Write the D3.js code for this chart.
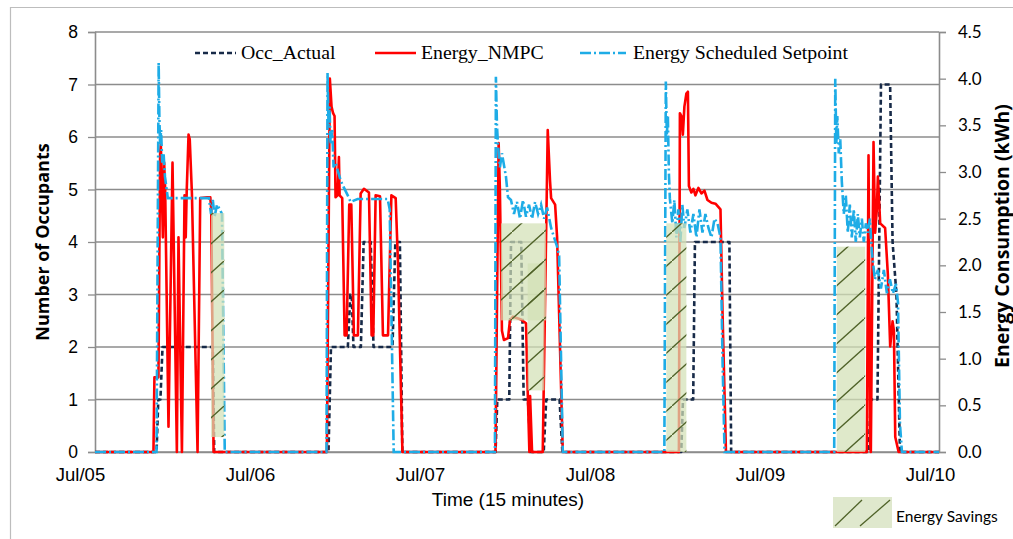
<!DOCTYPE html>
<html>
<head>
<meta charset="utf-8">
<script src="https://cdn.jsdelivr.net/npm/d3@7"></script>
<style>
  html, body { margin: 0; padding: 0; background: #fff; }
  svg { display: block; }
</style>
</head>
<body>
<svg id="chart" width="1013" height="539"></svg>
<script>
// ---- Data (time in hours from Jul/05 00:00, 15-minute resolution) ----
const dayLabels = ["Jul/05", "Jul/06", "Jul/07", "Jul/08", "Jul/09", "Jul/10"];
const dayHours = [0, 24, 48, 72, 96, 120];
const leftTicks = [0, 1, 2, 3, 4, 5, 6, 7, 8];
const rightTicks = [0, 0.5, 1, 1.5, 2, 2.5, 3, 3.5, 4, 4.5];

// Occ_Actual (number of occupants)
const occActual = [
  [0,0],[8.75,0],[9.0,1],[9.3,1],[9.6,2],[16.75,2],[16.95,0],
  [33.2,0],[33.55,2],[35.95,2],[36.3,3],[36.5,3],[36.75,2],[37.8,2],[38.2,4],[39.2,4],[39.6,2],[42.3,2],[42.7,4],[43.35,4],[43.7,0],
  [56.95,0],[57.2,1],[58.9,1],[59.15,4],[60.6,4],[60.95,1],[61.55,1],[61.95,0],[63.8,0],[64.15,1],[66.05,1],[66.45,0],
  [83.35,0],[83.6,1],[85.05,1],[85.3,4],[90.2,4],[90.45,0],
  [110.0,0],[110.3,1],[111.25,1],[111.75,7],[113.05,7],[113.4,4],[113.95,3],[114.45,0],[120,0]
];

// Energy_NMPC (kWh)
const energyNMPC = [
  [0,0],[8.31,0],[8.45,0.8],[9.02,0.8],[9.26,3.2],[9.36,3.3],[9.65,2.3],[9.83,3.1],[9.98,2.8],[10.45,0.27],
  [11.02,3.1],[11.64,0],[11.87,2.3],[12.36,0],[12.73,2.75],[12.9,2.3],[13.04,2.8],[13.3,3.4],[13.47,3.35],[13.78,2.77],
  [14.58,0],[14.96,2.72],[15.96,2.73],[16.39,2.73],[16.53,2.6],[16.86,0],
  [32.97,0],[33.39,4.0],[33.63,3.7],[33.85,3.63],[34.06,3.6],[34.2,2.73],[34.49,2.75],[34.68,3.16],[34.78,2.75],
  [35.15,2.72],[35.49,1.25],[35.77,1.25],[36.15,2.65],[36.44,2.65],[36.81,1.25],[37.38,1.25],[37.77,2.77],[38.24,2.82],
  [38.95,2.78],[39.33,1.25],[39.57,1.25],[39.9,2.75],[40.52,2.74],[40.94,1.25],[41.66,1.25],[42.14,2.75],[42.75,2.72],
  [43.09,2.0],[43.71,0],
  [56.94,0],[57.39,3.31],[57.57,2.8],[57.86,1.3],[58.14,1.2],[58.72,1.22],[59.0,1.41],[59.43,1.45],[60.57,1.42],
  [61.28,1.38],[61.52,0.66],[61.76,0],[61.86,0.6],[62.14,0],[63.66,0],[64.37,3.45],[64.7,2.9],[64.85,2.72],
  [65.42,2.65],[65.7,2.3],[66.51,0],
  [83.02,0],[83.16,3.63],[83.37,3.6],[83.58,3.4],[83.8,3.7],[84.08,3.84],[84.3,3.86],[84.44,2.85],[84.79,2.78],
  [85.08,2.82],[85.37,2.75],[85.79,2.83],[86.22,2.77],[86.65,2.8],[87.08,2.7],[87.65,2.67],[88.22,2.66],[88.93,2.6],
  [89.22,1.5],[89.71,0],
  [109.74,0],[109.98,3.18],[110.21,0.1],[110.31,0],[110.69,3.32],[110.92,2.35],[111.16,2.6],[111.31,2.95],[111.64,2.45],
  [112.34,2.4],[112.73,1.9],[113.06,1.13],[113.4,1.4],[113.59,1.3],[113.78,0.16],[114.26,0],[120,0]
];

// Energy Scheduled Setpoint (kWh)
const energySetpoint = [
  [0,0],[8.75,0],[9.05,4.17],[9.15,3.6],[9.25,3.3],[9.4,3.45],[9.55,3.1],[9.75,3.2],[9.95,2.95],[10.35,2.72],
  [16.2,2.72],[16.5,2.55],[16.75,2.7],[17.0,2.52],[17.35,2.65],[17.75,2.6],[18.05,2.55],[18.45,0],
  [32.92,0],[33.06,4.06],[33.2,3.5],[33.35,3.7],[33.49,3.3],[33.73,3.45],[33.92,3.05],[34.2,3.1],[34.92,2.91],
  [35.34,2.84],[36.06,2.73],[36.34,2.68],[37.34,2.71],[41.61,2.71],[41.9,2.6],[42.47,0],
  [56.86,0],[57.0,4.02],[57.15,3.5],[57.29,3.3],[57.57,3.05],[57.86,3.2],[58.43,2.95],[58.72,2.73],[59.14,2.7],
  [59.57,2.55],[60.0,2.68],[60.43,2.5],[60.85,2.7],[61.28,2.52],[61.71,2.65],[62.14,2.5],[62.57,2.68],[63.0,2.55],
  [63.42,2.65],[63.85,2.5],[64.28,2.62],[64.85,2.4],[65.27,2.3],[65.7,2.2],[65.99,2.1],[66.51,0],
  [80.95,0],[81.16,3.97],[81.3,3.4],[81.45,3.6],[81.59,3.0],[81.73,2.72],[82.09,2.45],[82.37,2.7],[82.66,2.3],
  [82.94,2.6],[83.23,2.25],[83.51,2.65],[83.8,2.4],[84.22,2.6],[84.65,2.35],[85.08,2.55],[85.51,2.3],[85.94,2.6],
  [86.37,2.35],[86.79,2.55],[87.22,2.4],[87.65,2.3],[88.08,2.5],[88.51,2.45],[88.93,2.3],[89.22,1.0],[89.51,0],
  [105.1,0],[105.25,4.0],[105.4,3.3],[105.54,3.6],[105.75,3.2],[105.96,3.35],[106.18,2.9],[106.46,2.55],[106.75,2.75],
  [107.03,2.35],[107.32,2.65],[107.6,2.3],[107.89,2.6],[108.17,2.25],[108.46,2.55],[108.74,2.3],[109.03,2.5],
  [109.31,2.25],[109.6,2.45],[109.88,2.35],[110.17,2.5],[110.45,2.15],[110.88,1.85],[111.31,1.95],[111.74,1.75],
  [112.16,1.95],[112.59,1.7],[113.02,1.85],[113.45,1.7],[113.88,1.8],[114.17,1.6],[114.45,0.3],[114.73,0],[120,0]
];

// Energy Savings areas: [startHour, endHour, lowKWh, highKWh]
const energySavings = [
  [16.49, 18.38, 0.16, 2.56],
  [57.72, 64.13, 1.41, 2.45],
  [61.52, 63.9, 0.66, 2.02],
  [81.23, 84.08, 0, 2.45],
  [105.46, 109.5, 0, 2.2]
];

// ---- Drawing ----
const svg = d3.select("#chart");
const plot = { left: 95, right: 939, top: 32, bottom: 452 };
const x = d3.scaleLinear().domain([0, 120]).range([plot.left, plot.right]);
const yL = d3.scaleLinear().domain([0, 8]).range([plot.bottom, plot.top]);
const yR = d3.scaleLinear().domain([0, 4.5]).range([plot.bottom, plot.top]);

const gridColor = "#8c8c8c";
const sansA = "'Liberation Sans', Arial, sans-serif";
const sansC = "Lato, 'Open Sans', sans-serif";
const sansB = "'Open Sans', Lato, sans-serif";
const serif = "'Liberation Serif', 'Times New Roman', serif";

// outer chart frame
svg.append("line").attr("x1", 10).attr("x2", 1013).attr("y1", 7.5).attr("y2", 7.5)
  .attr("stroke", "#bdbdbd").attr("stroke-width", 1.2);
svg.append("line").attr("x1", 10.5).attr("x2", 10.5).attr("y1", 7).attr("y2", 539)
  .attr("stroke", "#bdbdbd").attr("stroke-width", 1.2);

// hatch pattern
const defs = svg.append("defs");
const pat = defs.append("pattern").attr("id", "hatch")
  .attr("patternUnits", "userSpaceOnUse").attr("width", 32).attr("height", 29);
pat.append("line").attr("x1", 0).attr("y1", 29).attr("x2", 32).attr("y2", 0)
  .attr("stroke", "#4f6228").attr("stroke-width", 1.3);

// gridlines
svg.append("g").selectAll("line").data(leftTicks).join("line")
  .attr("x1", plot.left).attr("x2", plot.right)
  .attr("y1", d => yL(d)).attr("y2", d => yL(d))
  .attr("stroke", gridColor).attr("stroke-width", 1.3);

// left axis
const leftAxis = svg.append("g").attr("transform", `translate(${plot.left},0)`)
  .call(d3.axisLeft(yL).tickValues(leftTicks).tickSize(7).tickPadding(10).tickFormat(d3.format("d")));
leftAxis.select(".domain").attr("stroke", gridColor).attr("stroke-width", 1.6);
leftAxis.selectAll(".tick line").attr("stroke", gridColor).attr("stroke-width", 1.3);
leftAxis.selectAll("text").attr("font-family", sansA).attr("font-size", 17.5).attr("fill", "#000");

// right axis
const rightAxis = svg.append("g").attr("transform", `translate(${plot.right},0)`)
  .call(d3.axisRight(yR).tickValues(rightTicks).tickSize(7).tickPadding(12).tickFormat(d3.format(".1f")));
rightAxis.select(".domain").attr("stroke", gridColor).attr("stroke-width", 1.6);
rightAxis.selectAll(".tick line").attr("stroke", gridColor).attr("stroke-width", 1.3);
rightAxis.selectAll("text").attr("font-family", sansC).attr("font-size", 17).attr("fill", "#000");

// bottom axis
const bottomAxis = svg.append("g").attr("transform", `translate(0,${plot.bottom})`)
  .call(d3.axisBottom(x).tickValues(dayHours).tickSize(0).tickPadding(16)
    .tickFormat((d, i) => dayLabels[i]));
bottomAxis.select(".domain").attr("stroke", gridColor).attr("stroke-width", 1.6);
bottomAxis.selectAll("text").attr("font-family", sansA).attr("font-size", 18.5).attr("fill", "#000")
  .attr("dx", (d, i) => -15 + 1.2 * i);

// lines
const lineL = d3.line().x(d => x(d[0])).y(d => yL(d[1]));
const lineR = d3.line().x(d => x(d[0])).y(d => yR(d[1]));

svg.append("path").datum(occActual).attr("d", lineL)
  .attr("fill", "none").attr("stroke", "#172a48").attr("stroke-width", 2.6)
  .attr("stroke-dasharray", "5,3").attr("stroke-linejoin", "round");
svg.append("path").datum(energyNMPC).attr("d", lineR)
  .attr("fill", "none").attr("stroke", "#ff0000").attr("stroke-width", 2.6)
  .attr("stroke-linejoin", "round");
svg.append("path").datum(energySetpoint).attr("d", lineR)
  .attr("fill", "none").attr("stroke", "#1eace6").attr("stroke-width", 2.6)
  .attr("stroke-dasharray", "11,3,2,3");

// energy savings areas
const sav = svg.append("g");
sav.selectAll("rect.fill").data(energySavings).join("rect").attr("class", "fill")
  .attr("x", d => x(d[0])).attr("width", d => x(d[1]) - x(d[0]))
  .attr("y", d => yR(d[3])).attr("height", d => yR(d[2]) - yR(d[3]))
  .attr("fill", "#d3e1b6").attr("fill-opacity", 0.72);
sav.selectAll("rect.hatch").data(energySavings).join("rect").attr("class", "hatch")
  .attr("x", d => x(d[0])).attr("width", d => x(d[1]) - x(d[0]))
  .attr("y", d => yR(d[3])).attr("height", d => yR(d[2]) - yR(d[3]))
  .attr("fill", "url(#hatch)");

// top legend
const legendItems = [
  { label: "Occ_Actual", color: "#172a48", dash: "5,3", x1: 195, x2: 236, tx: 241 },
  { label: "Energy_NMPC", color: "#ff0000", dash: null, x1: 375, x2: 416, tx: 421 },
  { label: "Energy Scheduled Setpoint", color: "#1eace6", dash: "11,3,2,3", x1: 580, x2: 626, tx: 633 }
];
const lg = svg.append("g");
legendItems.forEach(it => {
  const l = lg.append("line").attr("x1", it.x1).attr("x2", it.x2).attr("y1", 53).attr("y2", 53)
    .attr("stroke", it.color).attr("stroke-width", 2.6);
  if (it.dash) l.attr("stroke-dasharray", it.dash);
  lg.append("text").attr("x", it.tx).attr("y", 59).text(it.label)
    .attr("font-family", serif).attr("font-size", 19.8).attr("fill", "#000");
});

// Energy Savings legend
svg.append("rect").attr("x", 833).attr("y", 497).attr("width", 59).attr("height", 31)
  .attr("fill", "#dfe8cd");
svg.append("line").attr("x1", 835).attr("y1", 526).attr("x2", 862).attr("y2", 500)
  .attr("stroke", "#4f6228").attr("stroke-width", 1.3);
svg.append("line").attr("x1", 860).attr("y1", 526).attr("x2", 890).attr("y2", 500)
  .attr("stroke", "#4f6228").attr("stroke-width", 1.3);
svg.append("text").attr("x", 896).attr("y", 522).text("Energy Savings")
  .attr("font-family", sansC).attr("font-size", 15.5).attr("fill", "#000");

// axis titles
svg.append("text").attr("x", 508).attr("y", 506).attr("text-anchor", "middle")
  .text("Time (15 minutes)").attr("font-family", sansA).attr("font-size", 19).attr("fill", "#000");
svg.append("text").attr("transform", "translate(48.5,242) rotate(-90)").attr("text-anchor", "middle")
  .text("Number of Occupants").attr("font-family", sansB).attr("font-weight", "bold")
  .attr("font-size", 18).attr("fill", "#000");
svg.append("text").attr("transform", "translate(1008.5,236) rotate(-90)").attr("text-anchor", "middle")
  .text("Energy Consumption (kWh)").attr("font-family", sansB).attr("font-weight", "bold")
  .attr("font-size", 19.5).attr("fill", "#000");
</script>
</body>
</html>
